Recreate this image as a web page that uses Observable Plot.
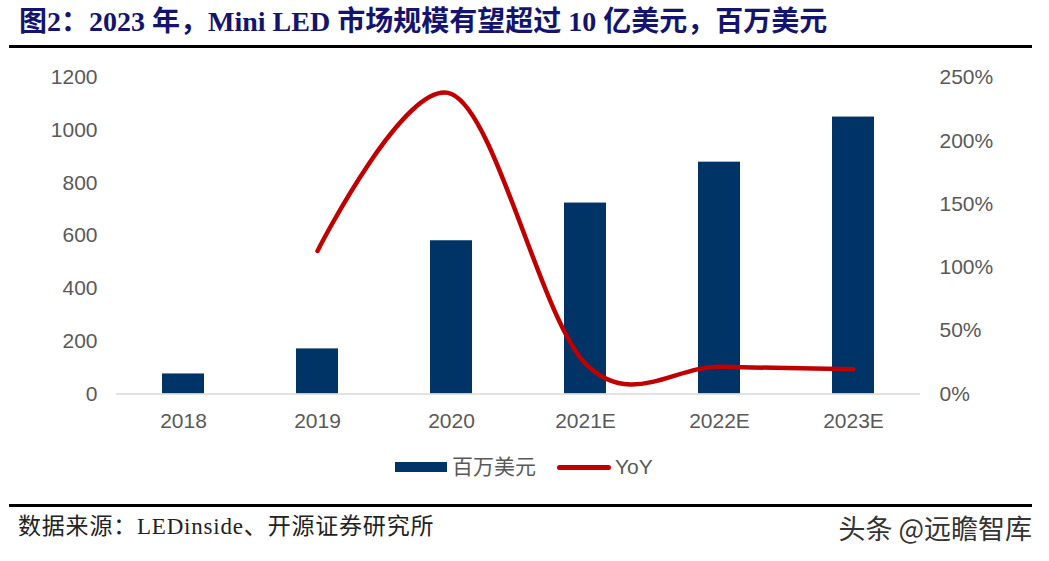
<!DOCTYPE html>
<html>
<head>
<meta charset="utf-8">
<script src="https://cdn.jsdelivr.net/npm/d3@7"></script>
<script src="https://cdn.jsdelivr.net/npm/@observablehq/plot@0.6"></script>
<style>
  body { margin: 0; background: #fff; }
  #wrap { position: relative; width: 1049px; height: 561px; overflow: hidden; background: #fff; }
  .abs { position: absolute; white-space: nowrap; }
  #title { left: 19px; top: 7px; font: bold 28px/30px "Liberation Serif", "Noto Sans CJK SC", serif; color: #14146e; }
  .rule { left: 9px; width: 1023px; height: 3px; background: #000; }
  #source { left: 18px; top: 513px; font: 23px/28px "Liberation Serif", "Noto Sans CJK SC", serif; letter-spacing: 0.8px; color: #222; }
  #mark { right: 17px; top: 512px; font: 27px/32px "Noto Sans CJK SC", sans-serif; color: #333; }
  #chart { left: 0; top: 60px; }
  #legend { top: 455px; left: 395px; display: flex; align-items: center; font: 21px/24px "Liberation Sans", "Noto Sans CJK SC", sans-serif; color: #595959; }
  .sw-bar { width: 52px; height: 10px; background: #003366; margin-right: 5px; }
  .sw-line { width: 54px; height: 5px; border-radius: 3px; background: #c00000; margin: 0 4px 0 21px; }
</style>
</head>
<body>
<div id="wrap">
  <div id="title" class="abs">图2：2023 年，Mini LED 市场规模有望超过 10 亿美元，百万美元</div>
  <div class="abs rule" style="top:45px"></div>
  <div id="chart" class="abs"></div>
  <div id="legend" class="abs"><span class="sw-bar"></span><span>百万美元</span><span class="sw-line"></span><span>YoY</span></div>
  <div class="abs rule" style="top:504px"></div>
  <div id="source" class="abs">数据来源：LEDinside、开源证券研究所</div>
  <div id="mark" class="abs">头条 @远瞻智库</div>
</div>
<script>
// Data
const years = ["2018", "2019", "2020", "2021E", "2022E", "2023E"];
const marketSize = [76, 171, 581, 724, 879, 1050];          // 百万美元
const yoy = [null, 113, 237, 24, 21.5, 19.5];               // YoY, %
const leftTicks = [0, 200, 400, 600, 800, 1000, 1200];
const rightTicks = [0, 50, 100, 150, 200, 250];             // %

const leftMax = 1200, rightMax = 250;
const k = leftMax / rightMax;

const bars = years.map((y, i) => ({year: y, value: marketSize[i]}));
const line = years.map((y, i) => ({year: y, yoy: yoy[i]})).filter(d => d.yoy != null);

const chart = Plot.plot({
  width: 1049,
  height: 385,
  marginTop: 17,
  marginBottom: 51.5,
  marginLeft: 116,
  marginRight: 129,
  style: {fontSize: "21px", fontFamily: "'Liberation Sans', Arial, sans-serif", color: "#595959", background: "transparent"},
  x: {type: "band", domain: years, paddingInner: 0.687, paddingOuter: 0.3435},
  y: {domain: [0, leftMax]},
  marks: [
    Plot.barY(bars, {x: "year", y: "value", fill: "#003366"}),
    Plot.ruleY([0], {stroke: "#d9d9d9", strokeWidth: 1.5}),
    Plot.line(line, {x: "year", y: d => d.yoy * k, stroke: "#c00000", strokeWidth: 4.5, curve: "cardinal", strokeLinecap: "round", strokeLinejoin: "round"}),
    Plot.axisY({anchor: "left", ticks: leftTicks, tickFormat: d => String(d), tickSize: 0, tickPadding: 19, label: null}),
    Plot.axisY({anchor: "right", ticks: rightTicks.map(v => v * k), tickFormat: d => Math.round(d / k) + "%", tickSize: 0, tickPadding: 19, label: null}),
    Plot.axisX({tickSize: 0, tickPadding: 19, label: null})
  ]
});
document.getElementById("chart").appendChild(chart);
</script>
</body>
</html>
